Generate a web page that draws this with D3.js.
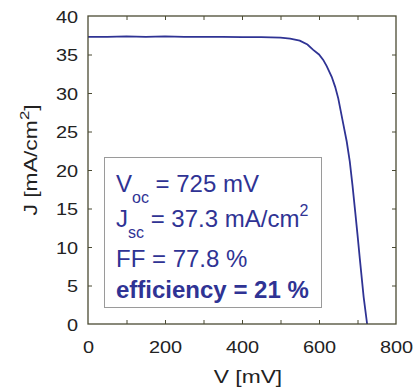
<!DOCTYPE html>
<html><head><meta charset="utf-8">
<script src="https://cdn.jsdelivr.net/npm/d3@7"></script>
<style>
html,body{margin:0;padding:0;background:#fff;}
svg{display:block;font-family:Arial,"Liberation Sans",Helvetica,sans-serif;}
</style></head>
<body>
<svg id="chart" width="414" height="387"></svg>
<script>
// ---- data ----
const voltage = [0, 50, 100, 150, 200, 250, 300, 350, 400, 450, 500, 525, 550, 570, 585, 600, 611, 620, 633, 642, 650, 663, 672, 680, 687, 694, 700, 706, 716, 725];
const current = [37.3, 37.3, 37.35, 37.3, 37.35, 37.3, 37.3, 37.3, 37.25, 37.25, 37.2, 37.05, 36.8, 36.3, 35.6, 35.0, 34.3, 33.5, 32.1, 30.8, 29.3, 26.0, 23.7, 21.1, 18.0, 14.6, 11.6, 8.5, 3.5, 0];
const xTickLabels = [0, 200, 400, 600, 800];
const xMinorTicks = [100, 200, 300, 400, 500, 600, 700];
const yTickLabels = [0, 5, 10, 15, 20, 25, 30, 35, 40];
const statsLines = [
  {main: "V", sub: "oc", rest: " = 725 mV", sup: ""},
  {main: "J", sub: "sc", rest: " = 37.3 mA/cm", sup: "2"},
  {main: "FF = 77.8 %", sub: "", rest: "", sup: ""},
  {main: "efficiency = 21 %", sub: "", rest: "", sup: "", bold: true}
];

const svg = d3.select("#chart");
const L = 88, R = 396, T = 16, B = 324;
const x = d3.scaleLinear().domain([0, 800]).range([L, R]);
const y = d3.scaleLinear().domain([0, 40]).range([B, T]);
const frameColor = "#4b4b33";
const blue = "#2f3394";
const SX = 1.17; // horizontal stretch of the reference's text

// curve
svg.append("path")
  .datum(voltage.map((v, i) => [v, current[i]]))
  .attr("fill", "none")
  .attr("stroke", blue)
  .attr("stroke-width", 1.8)
  .attr("d", d3.line().x(d => x(d[0])).y(d => y(d[1])));

// axes
function styleAxis(g) {
  g.select(".domain").remove();
  g.selectAll(".tick line").attr("stroke", frameColor).attr("stroke-width", 1);
}
svg.append("g").attr("transform", `translate(0,${B})`)
  .call(d3.axisBottom(x).tickValues(xMinorTicks).tickSize(-4).tickFormat(""))
  .call(styleAxis);
svg.append("g").attr("transform", `translate(0,${T})`)
  .call(d3.axisTop(x).tickValues(xMinorTicks).tickSize(-4).tickFormat(""))
  .call(styleAxis);
svg.append("g").attr("transform", `translate(${L},0)`)
  .call(d3.axisLeft(y).tickValues(yTickLabels.slice(1, -1)).tickSize(-4).tickFormat(""))
  .call(styleAxis);
svg.append("g").attr("transform", `translate(${R},0)`)
  .call(d3.axisRight(y).tickValues(yTickLabels.slice(1, -1)).tickSize(-4).tickFormat(""))
  .call(styleAxis);

// tick labels via axis generators
const xLab = svg.append("g").attr("transform", `translate(0,${B})`)
  .call(d3.axisBottom(x).tickValues(xTickLabels).tickSize(0).tickPadding(0).tickFormat(d3.format("d")));
xLab.select(".domain").remove();
xLab.selectAll("text").attr("y", 0).attr("dy", 0)
  .attr("transform", `translate(0,29) scale(${SX},1)`)
  .attr("font-size", 17).attr("fill", "#222").attr("font-family", "Arial, 'Liberation Sans', sans-serif");

const yLab = svg.append("g").attr("transform", `translate(${L},0)`)
  .call(d3.axisLeft(y).tickValues(yTickLabels).tickSize(0).tickPadding(0).tickFormat(d3.format("d")));
yLab.select(".domain").remove();
yLab.selectAll("text").attr("x", 0).attr("dy", 0).attr("y", 0)
  .attr("transform", `translate(-10,6) scale(${SX},1)`)
  .attr("font-size", 17).attr("fill", "#222").attr("font-family", "Arial, 'Liberation Sans', sans-serif");

// frame
svg.append("rect").attr("x", L).attr("y", T).attr("width", R - L).attr("height", B - T)
  .attr("fill", "none").attr("stroke", frameColor).attr("stroke-width", 1.3);

// axis titles
svg.append("text").attr("transform", `translate(${(L + R) / 2 + 6},383) scale(1.2,1)`)
  .attr("text-anchor", "middle").attr("font-size", 19).attr("fill", "#222").text("V [mV]");
const yt = svg.append("text").attr("transform", `translate(37,${(T + B) / 2 - 10}) rotate(-90) scale(1.24,1)`)
  .attr("text-anchor", "middle").attr("font-size", 18.5).attr("fill", "#222");
yt.append("tspan").text("J [mA/cm");
yt.append("tspan").attr("dy", -8).attr("font-size", 13.5).text("2");
yt.append("tspan").attr("dy", 8).text("]");

// stats box
svg.append("rect").attr("x", 104.5).attr("y", 157.5).attr("width", 217).attr("height", 150)
  .attr("fill", "#fff").attr("stroke", "#9a9a9a").attr("stroke-width", 1);
const baselines = [192, 227, 266.5, 298];
statsLines.forEach((ln, i) => {
  const t = svg.append("text").attr("x", 116).attr("y", baselines[i])
    .attr("font-size", 24).attr("fill", blue).attr("font-weight", ln.bold ? "bold" : "normal");
  t.append("tspan").text(ln.main);
  if (ln.sub) t.append("tspan").attr("dy", 11).attr("font-size", 16).text(ln.sub);
  if (ln.rest) t.append("tspan").attr("dy", ln.sub ? -11 : 0).text(ln.rest);
  if (ln.sup) t.append("tspan").attr("dy", -11).attr("font-size", 16).text(ln.sup);
});
</script>
</body></html>
